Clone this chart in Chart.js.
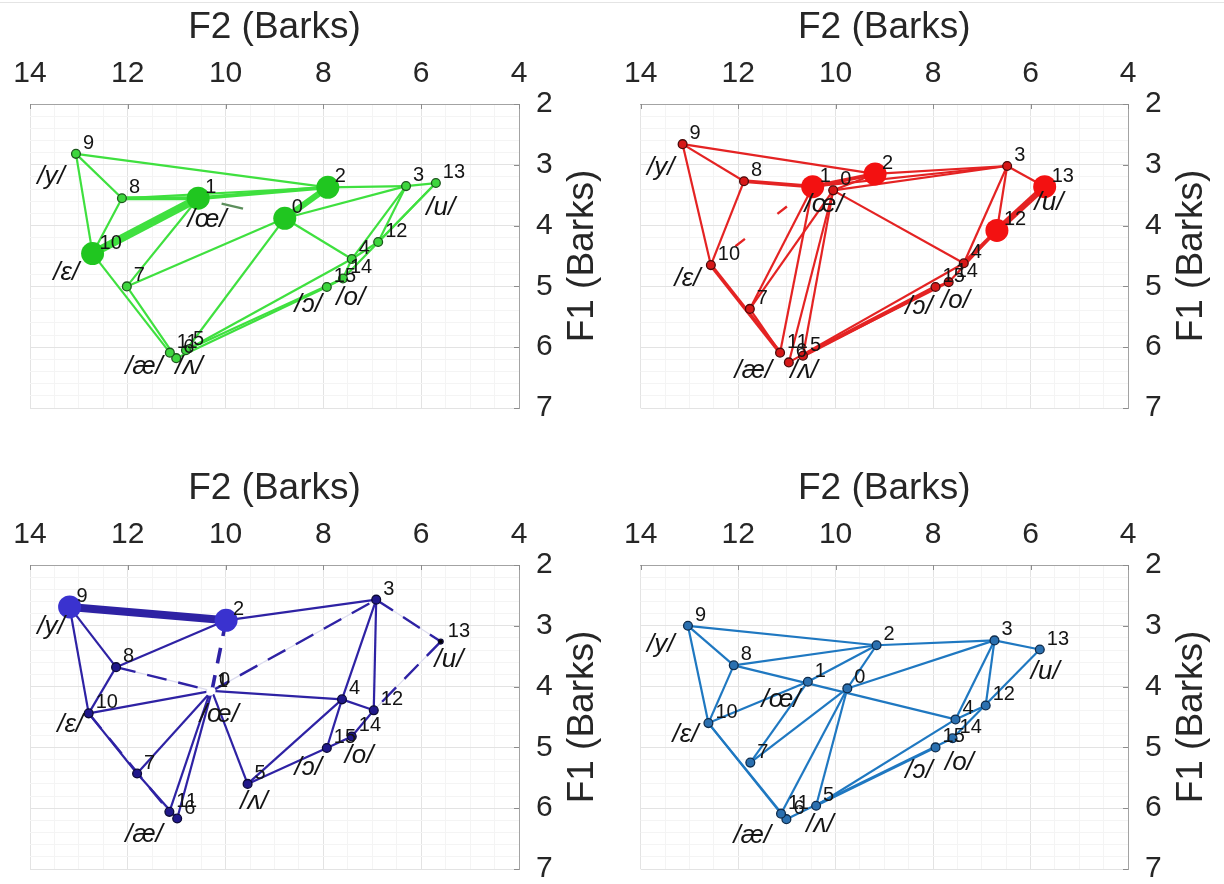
<!DOCTYPE html>
<html>
<head>
<meta charset="utf-8">
<script src="https://cdn.jsdelivr.net/npm/chart.js@4.4.1/dist/chart.umd.min.js"></script>
<style>
  html, body { margin: 0; padding: 0; background: #ffffff; }
  body { width: 1224px; height: 884px; position: relative; overflow: hidden; }
  .rule { position: absolute; left: 0; top: 2px; width: 1224px; height: 1px; background: #e4e4e4; }
  .panel { position: absolute; width: 612px; height: 443px; }
  .panel canvas { display: block; }
</style>
</head>
<body>
<div class="rule"></div>
<div class="panel" style="left:0;top:0"><canvas id="c0" width="612" height="443"></canvas></div>
<div class="panel" style="left:612px;top:0"><canvas id="c1" width="612" height="443"></canvas></div>
<div class="panel" style="left:0;top:461px"><canvas id="c2" width="612" height="443"></canvas></div>
<div class="panel" style="left:612px;top:461px"><canvas id="c3" width="612" height="443"></canvas></div>
<script>
// ---- axis ticks ----
const xTickValues = [14, 12, 10, 8, 6, 4];
const yTickValues = [2, 3, 4, 5, 6, 7];
const vowelTexts = ['/y/', '/œ/', '/ɛ/', '/u/', '/ɔ/', '/o/', '/æ/', '/ʌ/'];

// ---- green map: node positions (F2, F1 in Barks), node index = array index ----
const greenF2 = [8.79, 10.56, 7.91, 6.31, 7.42, 10.81, 11.01, 12.02, 12.12, 13.06, 12.72, 11.14, 6.88, 5.70, 7.60, 7.93];
const greenF1 = [3.88, 3.55, 3.37, 3.35, 4.55, 6.05, 6.18, 5.00, 3.55, 2.82, 4.46, 6.09, 4.27, 3.30, 4.87, 5.01];
const greenActive = [0, 1, 2, 10];
const greenEdges = [[9,2,1],[9,8,1],[9,10,1],[8,1,2],[8,10,1],[8,2,1],[1,2,2],[2,3,1],[3,13,1],[10,1,4],[0,2,3],[0,3,1],[0,4,1],[0,5,1],[7,0,1],[7,1,1],[10,11,1],[7,6,1],[3,12,1],[3,4,1],[13,12,1],[13,14,1],[12,4,1],[4,14,1],[14,15,1],[5,4,1],[5,14,1],[6,15,1]];
const greenDashed = [[1,0,1]];
const greenVowelF2 = [13.57, 10.38, 13.26, 5.60, 8.31, 7.44, 11.67, 10.75];
const greenVowelF1 = [3.20, 3.91, 4.78, 3.70, 5.31, 5.18, 6.33, 6.33];

// ---- red map ----
const redF2 = [10.05, 10.47, 9.19, 6.48, 7.37, 10.67, 10.96, 11.76, 11.88, 13.14, 12.56, 11.14, 6.69, 5.71, 7.68, 7.95];
const redF1 = [3.42, 3.36, 3.15, 3.02, 4.62, 6.14, 6.25, 5.37, 3.27, 2.66, 4.65, 6.09, 4.08, 3.36, 4.93, 5.01];
const redActive = [1, 2, 12, 13];
const redEdges = [[9,2,1],[9,8,1],[9,10,1],[8,1,2],[8,10,1],[1,2,2],[0,2,1],[2,3,1],[1,3,1],[0,3,1],[0,4,1],[1,7,1],[0,7,1],[1,11,1],[0,6,1],[0,5,1],[10,11,2],[7,11,1],[3,13,1],[3,12,1],[3,4,1],[13,12,3],[12,4,2],[12,14,1],[5,15,2],[5,14,1],[6,4,1],[14,15,1]];
const redDashed = [[10,1,1]];
const redVowelF2 = [13.59, 10.24, 13.04, 5.62, 8.29, 7.54, 11.69, 10.65];
const redVowelF1 = [3.05, 3.66, 4.87, 3.63, 5.34, 5.23, 6.38, 6.38];

// ---- indigo map ----
const indigoF2 = [10.28, 10.32, 9.99, 6.92, 7.62, 9.55, 10.99, 11.81, 12.24, 13.19, 12.80, 11.15, 6.97, 5.60, 7.42, 7.93];
const indigoF1 = [4.07, 4.09, 2.91, 2.57, 4.21, 5.60, 6.17, 5.43, 3.68, 2.69, 4.44, 6.06, 4.39, 3.26, 4.82, 5.01];
const indigoActive = [2, 9];
const indigoEdges = [[9,2,4],[9,8,1],[9,10,1],[2,3,1],[2,8,1],[8,10,1],[10,0,1],[0,4,1],[0,7,1],[0,6,1],[1,11,1],[0,5,1],[10,7,1],[7,6,1],[3,4,1],[3,12,1],[4,12,1],[4,5,1],[4,15,1],[12,14,1],[14,15,1],[5,15,1]];
const indigoDashed = [[2,0,2],[0,3,1],[8,0,1],[3,13,1],[13,12,1],[10,11,1]];
const indigoVowelF2 = [13.57, 10.13, 13.18, 5.43, 8.31, 7.27, 11.67, 9.42];
const indigoVowelF1 = [3.02, 4.47, 4.62, 3.56, 5.33, 5.13, 6.43, 5.90];

// ---- blue map ----
const blueF2 = [9.76, 10.57, 9.16, 6.74, 7.54, 10.40, 11.01, 11.75, 12.09, 13.03, 12.61, 11.12, 6.92, 5.81, 7.60, 7.95];
const blueF1 = [4.03, 3.92, 3.32, 3.24, 4.54, 5.96, 6.18, 5.25, 3.65, 3.00, 4.60, 6.09, 4.31, 3.39, 4.85, 5.00];
const blueActive = [];
const blueEdges = [[9,2,1],[9,8,1],[9,10,1],[8,2,1],[8,10,1],[8,4,1],[10,1,1],[1,2,1],[0,2,1],[0,3,1],[2,3,1],[3,13,1],[0,7,1],[1,7,1],[0,11,1],[0,5,1],[10,11,1],[10,6,1],[3,4,1],[3,12,1],[13,14,1],[4,12,1],[5,4,1],[5,15,1],[6,14,1]];
const blueDashed = [];
const blueVowelF2 = [13.59, 11.12, 13.08, 5.70, 8.29, 7.46, 11.71, 10.32];
const blueVowelF1 = [3.32, 4.21, 4.80, 3.76, 5.39, 5.25, 6.45, 6.27];

const FONT = '"Liberation Sans", "DejaVu Sans", Arial, sans-serif';
const TEXT = '#262626';
const WEIGHT_WIDTH = { 1: 2.2, 2: 3.8, 3: 6.2, 4: 8 };

const panels = [
  { id: 'c0', f2: greenF2, f1: greenF1, active: greenActive, edges: greenEdges, dashed: greenDashed,
    vx: greenVowelF2, vy: greenVowelF1, padLeft: 30, yWidth: 93,
    line: '#3fe03f', fill: '#3ed63e', bigFill: '#20c620', rim: '#1c561c',
    dashColor: '#5d8f5d', dashPattern: [22, 100], dashOffset: 98, underlay: null, hollow: [], tiny: [] },
  { id: 'c1', f2: redF2, f1: redF1, active: redActive, edges: redEdges, dashed: redDashed,
    vx: redVowelF2, vy: redVowelF1, padLeft: 27, yWidth: 96,
    line: '#e42323', fill: '#d61818', bigFill: '#f31111', rim: '#4a0a0a',
    dashColor: '#e42323', dashPattern: [12, 41], dashOffset: 22, underlay: null, hollow: [], tiny: [] },
  { id: 'c2', f2: indigoF2, f1: indigoF1, active: indigoActive, edges: indigoEdges, dashed: indigoDashed,
    vx: indigoVowelF2, vy: indigoVowelF1, padLeft: 30, yWidth: 93,
    line: '#2e22a4', fill: '#20188a', bigFill: '#3a32cf', rim: '#0b0936',
    dashColor: '#2e22a4', dashPattern: [20, 12], dashOffset: 0, underlay: '#dcdcef', hollow: [0, 1], tiny: [13] },
  { id: 'c3', f2: blueF2, f1: blueF1, active: blueActive, edges: blueEdges, dashed: blueDashed,
    vx: blueVowelF2, vy: blueVowelF1, padLeft: 27, yWidth: 96,
    line: '#1f78c1', fill: '#2b70b0', bigFill: '#1f78c1', rim: '#0e2c4c',
    dashColor: '#1f78c1', dashPattern: [20, 12], dashOffset: 0, underlay: null, hollow: [], tiny: [] }
];

const isWhole = (v, step) => Math.abs(v / step - Math.round(v / step)) < 1e-6;

function labelsPlugin(p) {
  return {
    id: 'labels_' + p.id,
    afterDatasetsDraw(chart) {
      const { ctx } = chart;
      const xs = chart.scales.x, ys = chart.scales.y;
      ctx.save();
      // node numbers, up and to the right of each node
      ctx.font = '20px ' + FONT;
      ctx.fillStyle = '#141414';
      ctx.textAlign = 'left';
      ctx.textBaseline = 'alphabetic';
      p.f2.forEach((v, i) => {
        ctx.fillText(String(i), xs.getPixelForValue(v) + 7, ys.getPixelForValue(p.f1[i]) - 5);
      });
      // vowel category labels
      ctx.font = 'italic 26px ' + FONT;
      ctx.textAlign = 'center';
      ctx.textBaseline = 'middle';
      vowelTexts.forEach((t, i) => {
        ctx.fillText(t, xs.getPixelForValue(p.vx[i]), ys.getPixelForValue(p.vy[i]));
      });
      ctx.restore();
    },
    afterDraw(chart) {
      const { ctx, chartArea: a } = chart;
      const xs = chart.scales.x, ys = chart.scales.y;
      ctx.save();
      // short inward tick marks on the top and right axes
      ctx.strokeStyle = '#8c8c8c';
      ctx.lineWidth = 1;
      ctx.beginPath();
      xTickValues.forEach(v => {
        const px = Math.round(xs.getPixelForValue(v)) + 0.5;
        ctx.moveTo(px, a.top); ctx.lineTo(px, a.top + 5);
      });
      yTickValues.forEach(v => {
        const py = Math.round(ys.getPixelForValue(v)) + 0.5;
        ctx.moveTo(a.right, py); ctx.lineTo(a.right - 5, py);
      });
      ctx.stroke();
      // right-hand axis title, reading bottom to top
      ctx.translate(a.right + 64, (a.top + a.bottom) / 2);
      ctx.rotate(-Math.PI / 2);
      ctx.font = '37px ' + FONT;
      ctx.fillStyle = TEXT;
      ctx.textAlign = 'center';
      ctx.textBaseline = 'middle';
      ctx.fillText('F1 (Barks)', 0, 0);
      ctx.restore();
    }
  };
}

function buildChart(p) {
  const pt = i => ({ x: p.f2[i], y: p.f1[i] });
  const datasets = [];

  // nodes on top
  datasets.push({
    data: p.f2.map((v, i) => pt(i)),
    showLine: false,
    order: 0,
    pointRadius: p.f2.map((v, i) => p.active.includes(i) ? 11.5 : p.tiny.includes(i) ? 2.4 : p.hollow.includes(i) ? 3 : 4.4),
    pointBackgroundColor: p.f2.map((v, i) => p.active.includes(i) ? p.bigFill : p.hollow.includes(i) ? '#ffffff' : p.tiny.includes(i) ? '#000000' : p.fill),
    pointBorderColor: p.f2.map((v, i) => p.active.includes(i) ? p.bigFill : p.hollow.includes(i) ? '#ffffff' : p.rim),
    pointBorderWidth: p.f2.map((v, i) => p.active.includes(i) ? 0 : 1.3)
  });

  // solid links
  p.edges.forEach(([a, b, w]) => {
    datasets.push({
      data: [pt(a), pt(b)], showLine: true, order: 2, pointRadius: 0,
      borderColor: p.line, borderWidth: WEIGHT_WIDTH[w]
    });
  });

  // dashed links (with a faint trace underneath where present)
  p.dashed.forEach(([a, b, w]) => {
    if (p.underlay) {
      datasets.push({
        data: [pt(a), pt(b)], showLine: true, order: 3, pointRadius: 0,
        borderColor: w > 1 ? '#ffffff' : p.underlay, borderWidth: w > 1 ? 3.5 : 1.2
      });
    }
    datasets.push({
      data: [pt(a), pt(b)], showLine: true, order: 1, pointRadius: 0,
      borderColor: p.dashColor, borderWidth: w > 1 ? 3.6 : 2.4,
      borderDash: w > 1 ? [16, 12] : p.dashPattern, borderDashOffset: p.dashOffset
    });
  });

  const gridColor = step => ctx => isWhole(ctx.tick.value, step) ? '#e3e3e3' : '#f4f4f4';

  return new Chart(document.getElementById(p.id), {
    type: 'scatter',
    data: { datasets },
    plugins: [labelsPlugin(p)],
    options: {
      responsive: false,
      animation: false,
      events: [],
      layout: { padding: { left: p.padLeft, right: 0, top: 0, bottom: 16 } },
      plugins: { legend: { display: false }, tooltip: { enabled: false } },
      scales: {
        x: {
          type: 'linear', position: 'top', reverse: true, min: 4, max: 14,
          afterFit: s => { s.height = 104; },
          ticks: {
            stepSize: 0.5, autoSkip: false, maxRotation: 0, padding: 12,
            color: TEXT, font: { family: FONT, size: 30 },
            callback: v => xTickValues.some(t => Math.abs(t - v) < 1e-6) ? String(Math.round(v)) : ''
          },
          grid: { drawTicks: false, color: gridColor(2), lineWidth: 1 },
          border: { display: true, color: '#a3a3a3', width: 1 },
          title: { display: true, text: 'F2 (Barks)', color: TEXT, font: { family: FONT, size: 37 }, padding: { top: 6, bottom: 0 } }
        },
        y: {
          type: 'linear', position: 'right', reverse: true, min: 2, max: 7,
          afterFit: s => { s.width = p.yWidth; },
          ticks: {
            stepSize: 0.2, autoSkip: false, padding: 17,
            color: TEXT, font: { family: FONT, size: 30 },
            callback: v => yTickValues.some(t => Math.abs(t - v) < 1e-6) ? String(Math.round(v)) : ''
          },
          grid: { drawTicks: false, color: gridColor(1), lineWidth: 1 },
          border: { display: true, color: '#a3a3a3', width: 1 }
        }
      }
    }
  });
}

panels.forEach(buildChart);
</script>
</body>
</html>
